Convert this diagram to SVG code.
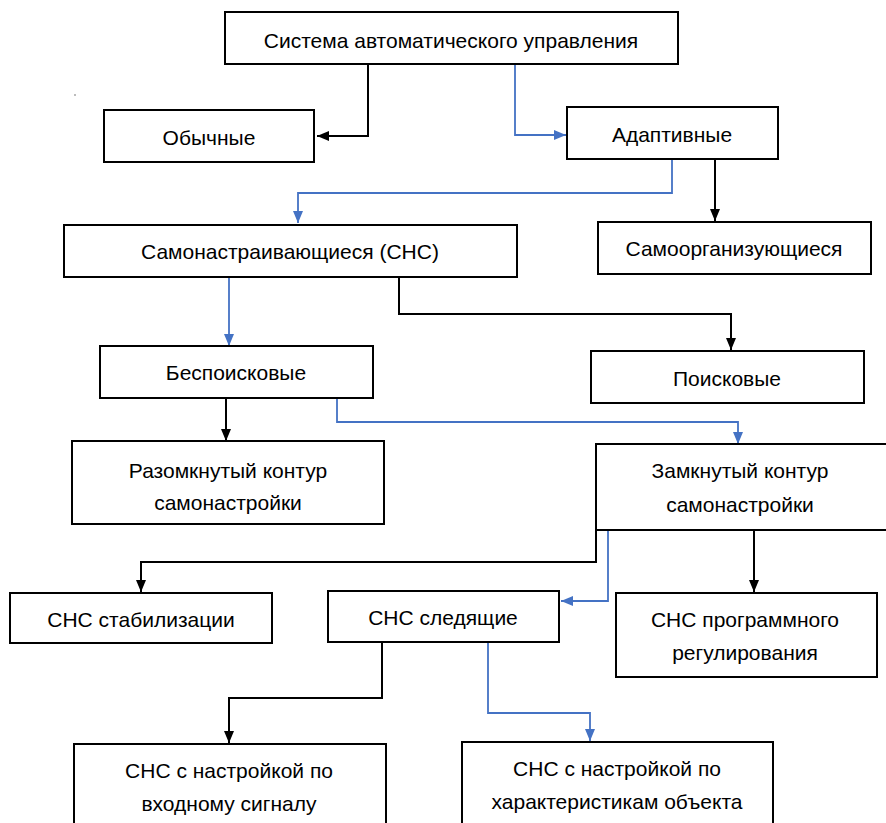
<svg xmlns="http://www.w3.org/2000/svg" width="886" height="823" viewBox="0 0 886 823">
<style>
.box{fill:#fff;stroke:#000;stroke-width:2}
.t{font-family:"Liberation Sans",Arial,sans-serif;font-size:21px;fill:#000;text-anchor:middle;dominant-baseline:central}
.k{fill:none;stroke:#000;stroke-width:2}
.b{fill:none;stroke:#4472C4;stroke-width:1.8}
</style>
<defs>
<marker id="ak" markerUnits="userSpaceOnUse" markerWidth="13" markerHeight="13" viewBox="0 0 13 13" refX="12" refY="6.5" orient="auto"><path d="M0,1.5 L12,6.5 L0,11.5 Z" fill="#000"/></marker>
<marker id="ab" markerUnits="userSpaceOnUse" markerWidth="13" markerHeight="13" viewBox="0 0 13 13" refX="12" refY="6.5" orient="auto"><path d="M0,1.5 L12,6.5 L0,11.5 Z" fill="#4472C4"/></marker>
</defs>
<rect width="886" height="823" fill="#fff"/>
<circle cx="75" cy="95" r="0.8" fill="#666"/>
<g id="connectors">
<path class="k" d="M368,64 V136 H317" marker-end="url(#ak)"/>
<path class="b" d="M515,64 V135 H566" marker-end="url(#ab)"/>
<path class="b" d="M672,159 V193 H298 V223" marker-end="url(#ab)"/>
<path class="k" d="M715,159 V221" marker-end="url(#ak)"/>
<path class="b" d="M229,277 V346" marker-end="url(#ab)"/>
<path class="k" d="M399,277 V314 H731 V350" marker-end="url(#ak)"/>
<path class="k" d="M226,398 V441" marker-end="url(#ak)"/>
<path class="b" d="M337,398 V422 H738 V444" marker-end="url(#ab)"/>
<path class="k" d="M596,529 V562 H141 V592" marker-end="url(#ak)"/>
<path class="b" d="M608,530 V601 H561" marker-end="url(#ab)"/>
<path class="k" d="M754,530 V592" marker-end="url(#ak)"/>
<path class="k" d="M382,640 V698 H229 V743" marker-end="url(#ak)"/>
<path class="b" d="M488,642 V713 H590 V741" marker-end="url(#ab)"/>
</g>
<g id="n-sau"><rect class="box" x="225" y="12" width="453" height="52"/><text class="t" x="451" y="40">Система автоматического управления</text></g>
<g id="n-obych"><rect class="box" x="104" y="110" width="210" height="52"/><text class="t" x="209" y="137">Обычные</text></g>
<g id="n-adapt"><rect class="box" x="567" y="107" width="211" height="52"/><text class="t" x="672" y="134">Адаптивные</text></g>
<g id="n-sns"><rect class="box" x="64" y="225" width="453" height="52"/><text class="t" x="290" y="251">Самонастраивающиеся (СНС)</text></g>
<g id="n-samoorg"><rect class="box" x="598" y="222" width="273" height="52"/><text class="t" x="734" y="248">Самоорганизующиеся</text></g>
<g id="n-bespoisk"><rect class="box" x="100" y="346" width="273" height="52"/><text class="t" x="236" y="372">Беспоисковые</text></g>
<g id="n-poisk"><rect class="box" x="591" y="351" width="273" height="52"/><text class="t" x="727" y="378">Поисковые</text></g>
<g id="n-razomk"><rect class="box" x="72" y="441" width="312" height="83"/><text class="t" x="228" y="470">Разомкнутый контур</text><text class="t" x="228" y="502">самонастройки</text></g>
<g id="n-zamk"><rect class="box" x="596" y="444" width="300" height="86"/><text class="t" x="740" y="470">Замкнутый контур</text><text class="t" x="740" y="504">самонастройки</text></g>
<g id="n-stab"><rect class="box" x="10" y="593" width="262" height="50"/><text class="t" x="141" y="619">СНС стабилизации</text></g>
<g id="n-sled"><rect class="box" x="328" y="591" width="231" height="51"/><text class="t" x="443" y="617">СНС следящие</text></g>
<g id="n-progr"><rect class="box" x="616" y="593" width="261" height="84"/><text class="t" x="745" y="619">СНС программного</text><text class="t" x="745" y="652">регулирования</text></g>
<g id="n-vhod"><rect class="box" x="74" y="744" width="312" height="90"/><text class="t" x="229" y="770">СНС с настройкой по</text><text class="t" x="229" y="803">входному сигналу</text></g>
<g id="n-harakt"><rect class="box" x="462" y="742" width="311" height="92"/><text class="t" x="617" y="768">СНС с настройкой по</text><text class="t" x="617" y="801">характеристикам объекта</text></g>
</svg>
